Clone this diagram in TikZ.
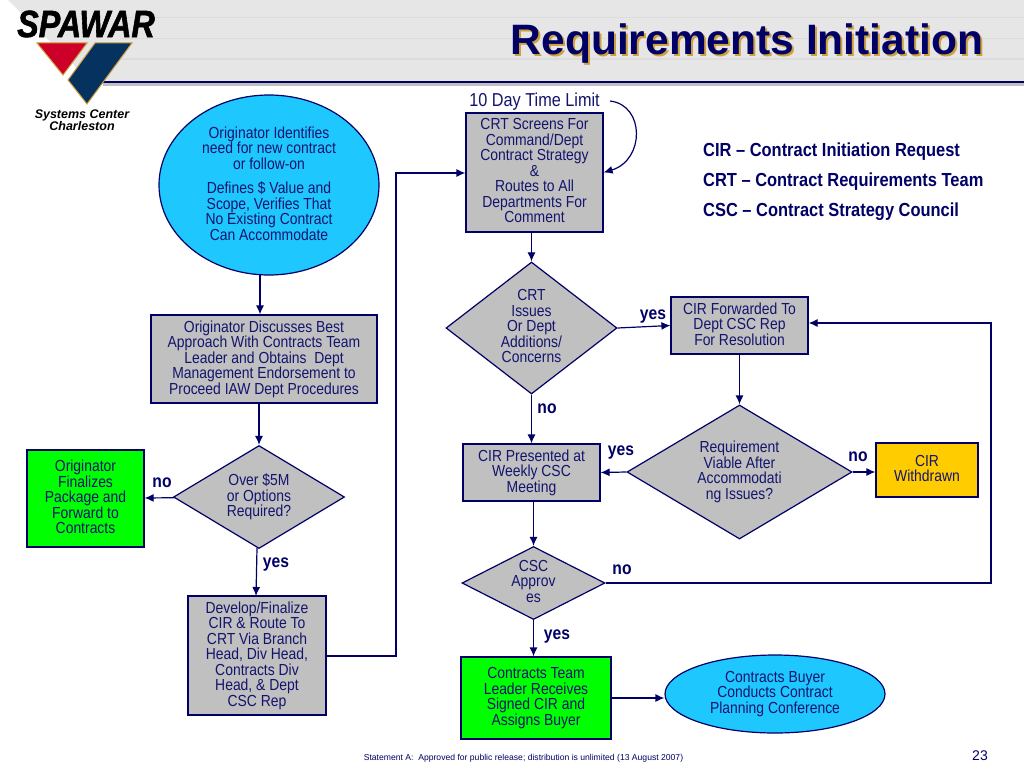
\documentclass[tikz,border=0pt]{standalone}
\usepackage{fontspec}
\setmainfont{Liberation Sans}[FakeStretch=0.87]
\newfontfamily\logofont{Liberation Sans}[FakeStretch=0.85,FakeBold=1.5]
\newfontfamily\titlefont{Liberation Sans}
\usetikzlibrary{shapes.geometric}
\usetikzlibrary{arrows.meta}
\definecolor{nn}{RGB}{0, 0, 102}
\definecolor{tt}{RGB}{20, 20, 110}
\definecolor{gg}{RGB}{192, 192, 192}
\definecolor{hh}{RGB}{230, 230, 230}
\definecolor{ll}{RGB}{220, 220, 220}
\definecolor{bb}{RGB}{30, 200, 255}
\definecolor{vv}{RGB}{0, 255, 0}
\definecolor{yy}{RGB}{255, 204, 0}
\definecolor{au}{RGB}{205, 160, 60}
\definecolor{rr}{RGB}{204, 0, 40}
\definecolor{dd}{RGB}{5, 50, 95}
\tikzset{
	flow/.style={draw=nn,line width=1.2pt,align=center,inner sep=0pt,text=tt,text depth=3.5pt,font=\fontsize{16}{15.5}\selectfont},
	link/.style={-{Latex[length=9pt,width=8pt]},color=nn,line width=1.2pt},
	answer/.style={text=nn,font=\fontsize{18}{18}\selectfont\bfseries,inner sep=0pt},
	legend/.style={text=nn,font=\fontsize{18.9}{18}\selectfont\bfseries,inner sep=0pt,anchor=west}
}
\newcommand{\boxnode}[7]{\node[flow,rectangle,minimum width=#4,minimum height=#5,fill=#6] (#3) at (#1,#2) {#7};}
\newcommand{\ovalnode}[7]{\node[flow,ellipse,minimum width=#4,minimum height=#5,fill=#6] (#3) at (#1,#2) {#7};}
\newcommand{\decnode}[6]{\pgfmathsetmacro{\decaspect}{#4/#5}
	\node[flow,diamond,shape aspect=\decaspect,minimum width=#4,minimum height=#5,fill=gg] (#3) at (#1,#2) {#6};}
\begin{document}
\begin{tikzpicture}[x=1pt,y=-1pt]
\useasboundingbox (0,0) rectangle (1024,768);
\fill[white] (0,0) rectangle (1024,768);

% header band
\fill[hh] (8,0) -- (1024,0) -- (1024,81) -- (90,81) -- cycle;
\foreach \y in {18,39,59} {\draw[ll,line width=1pt] (120,\y) -- (1024,\y);}
\fill[gg] (103,83) rectangle (1024,85.5);
\fill[nn] (103,80.5) rectangle (1024,83);

% logo
\fill[rr,draw=au,line width=1pt] (37,43) -- (87,43) -- (63,75) -- cycle;
\fill[dd,draw=au,line width=1pt] (95,43) -- (132,43) -- (87,104) -- (68,80) -- cycle;
\node[inner sep=0pt,font=\logofont\fontsize{38}{38}\selectfont\bfseries\itshape] (spawar) at (86,24) {SPAWAR};
\node[inner sep=0pt,align=center,font=\titlefont\fontsize{12.5}{12.5}\selectfont\bfseries\itshape] (center) at (82,120) {Systems Center\\Charleston};

% title
\node[inner sep=0pt,text=au,font=\titlefont\fontsize{42.5}{42.5}\selectfont\bfseries] (titleback) at (749,45.5) {Requirements Initiation};
\node[inner sep=0pt,text=nn,font=\titlefont\fontsize{42.5}{42.5}\selectfont\bfseries] (title) at (747,43.5) {Requirements Initiation};

% left column
\ovalnode{269}{185}{originator}{220}{180}{bb}{Originator Identifies\\need for new contract\\or follow-on\\[9pt]Defines \$ Value and\\Scope, Verifies That\\No Existing Contract\\Can Accommodate}
\boxnode{264}{359}{discuss}{226}{88}{gg}{Originator Discusses Best\\Approach With Contracts Team\\Leader and Obtains\ \ Dept\\Management Endorsement to\\Proceed IAW Dept Procedures}
\decnode{259}{497}{over}{171}{103}{Over \$5M\\or Options\\Required?}
\boxnode{85.5}{498.5}{finalize}{117}{97}{vv}{Originator\\Finalizes\\Package and\\Forward to\\Contracts}
\boxnode{257}{655.5}{develop}{138}{119}{gg}{Develop/Finalize\\CIR \& Route To\\CRT Via Branch\\Head, Div Head,\\Contracts Div\\Head, \& Dept\\CSC Rep}

% middle column
\boxnode{534.5}{172.5}{screens}{137}{119}{gg}{CRT Screens For\\Command/Dept\\Contract Strategy\\\&\\Routes to All\\Departments For\\Comment}
\node[inner sep=0pt,text=tt,font=\fontsize{18.7}{18.7}\selectfont] (limit) at (534.5,102) {10 Day Time Limit};
\decnode{531.5}{328}{issues}{171}{132}{CRT\\Issues\\Or Dept\\Additions/\\Concerns}
\boxnode{531.5}{472.5}{presented}{137}{57}{gg}{CIR Presented at\\Weekly CSC\\Meeting}
\decnode{533.5}{583}{approves}{143}{73}{CSC\\Approv\\es}
\boxnode{536}{698}{leader}{150}{82}{vv}{Contracts Team\\Leader Receives\\Signed CIR and\\Assigns Buyer}

% right column
\boxnode{739.5}{325.5}{forwarded}{137}{57}{gg}{CIR Forwarded To\\Dept CSC Rep\\For Resolution}
\decnode{739.5}{472}{viable}{225}{134}{Requirement\\Viable After\\Accommodati\\ng Issues?}
\boxnode{927}{470}{withdrawn}{102}{54}{yy}{CIR\\Withdrawn}
\ovalnode{775}{694}{buyer}{220}{78}{bb}{Contracts Buyer\\Conducts Contract\\Planning Conference}

% legend
\node[legend] (cir) at (703,152) {CIR – Contract Initiation Request};
\node[legend] (crt) at (703,182) {CRT – Contract Requirements Team};
\node[legend] (csc) at (703,212) {CSC – Contract Strategy Council};

% answers
\node[answer] (no1) at (162,483) {no};
\node[answer] (yes1) at (276,565) {yes};
\node[answer] (yes2) at (653,317) {yes};
\node[answer] (no2) at (547,409) {no};
\node[answer] (yes3) at (621,453) {yes};
\node[answer] (no3) at (858,457) {no};
\node[answer] (no4) at (622,570) {no};
\node[answer] (yes4) at (557,637) {yes};

% footer
\node[inner sep=0pt,text=nn,font=\titlefont\fontsize{8.6}{9}\selectfont] (statement) at (523.5,758) {Statement A:\ \ Approved for public release; distribution is unlimited (13 August 2007)};
\node[inner sep=0pt,text=nn,font=\titlefont\fontsize{14}{14}\selectfont] (page) at (980,756) {23};

\coordinate (origfoot) at (260,273.5);
\coordinate (overfoot) at (257,548);
\coordinate (devtop) at (256,596);
\coordinate (turn1) at (396,656);
\coordinate (turn2) at (396,173);
\coordinate (turn3) at (991,583);
\coordinate (turn4) at (991,323);
\coordinate (loopstart) at (610,101);

\draw[link] (origfoot) -- (discuss.north -| origfoot);
\draw[link] (discuss.south -| over) -- (over);
\draw[link] (over) -- (finalize);
\draw[link] (overfoot) -- (devtop);
\draw[link] (develop.east |- turn1) -- (turn1) -- (turn2) -- (screens.west |- turn2);
\draw[link] (loopstart) .. controls (645,105) and (645,160) .. (screens.east);
\draw[link] (screens.south -| issues) -- (issues);
\draw[link] (issues.east) -- (forwarded.west);
\draw[link] (issues) -- (presented);
\draw[link] (forwarded) -- (viable);
\draw[link] (viable.west) -- (presented.east);
\draw[link] (viable.east) -- (withdrawn.west |- viable.east);
\draw[link] (presented.south -| approves) -- (approves);
\draw[link] (approves) -- (leader.north -| approves);
\draw[link] (leader) -- (buyer.west |- leader);
\draw[link] (approves.east) -- (turn3) -- (turn4) -- (forwarded.east |- turn4);
\end{tikzpicture}
\end{document}
